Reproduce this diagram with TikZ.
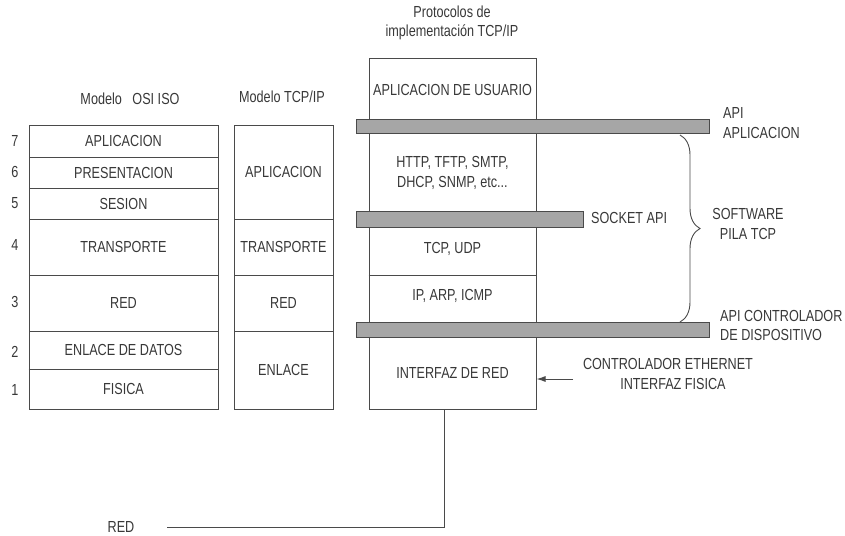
\documentclass[tikz,border=0pt]{standalone}
\usepackage{fontspec}
\setmainfont{Liberation Sans}[FakeStretch=0.79]
\usetikzlibrary{decorations.pathreplacing,arrows.meta}
\definecolor{txt}{HTML}{383838}
\definecolor{ln}{HTML}{4A4A4A}
\definecolor{barfill}{HTML}{A6A6A6}
\begin{document}
\begin{tikzpicture}[x=1pt,y=-1pt,
  every node/.style={text=txt,font=\fontsize{16}{19.5}\selectfont},
  layer/.style={draw=ln,line width=1pt,inner sep=0pt,minimum width=#1},
  txtnode/.style={inner sep=0pt,align=center},
  apibar/.style={draw=ln,line width=1pt,fill=barfill,inner sep=0pt},
  link/.style={draw=ln,line width=1pt}]
\useasboundingbox (0,0) rectangle (845,535);

% ---------- OSI model ----------
\node[txtnode] (osititle) at (130,99) {Modelo\ \ \ OSI ISO};
\node[layer=189,minimum height=32] (o7) at (123.5,141) {APLICACION};
\node[layer=189,minimum height=31] (o6) at (123.5,172.5) {PRESENTACION};
\node[layer=189,minimum height=31] (o5) at (123.5,203.5) {SESION};
\node[layer=189,minimum height=56] (o4) at (123.5,247) {TRANSPORTE};
\node[layer=189,minimum height=56] (o3) at (123.5,303) {RED};
\node[layer=189,minimum height=38] (o2) at (123.5,350) {ENLACE DE DATOS};
\node[layer=189,minimum height=40] (o1) at (123.5,389) {FISICA};
\draw[ln,line width=1.8pt] (o2.south west) -- (o2.south east);
\node[txtnode] (n7) at (15,141) {7};
\node[txtnode] (n6) at (15,172) {6};
\node[txtnode] (n5) at (15,203) {5};
\node[txtnode] (n4) at (15,245) {4};
\node[txtnode] (n3) at (15,302) {3};
\node[txtnode] (n2) at (15,352) {2};
\node[txtnode] (n1) at (15,390) {1};

% ---------- TCP/IP model ----------
\node[txtnode] (tcptitle) at (282,97) {Modelo TCP/IP};
\node[layer=99,minimum height=94] (t4) at (283.5,172) {APLICACION};
\node[layer=99,minimum height=56] (t3) at (283.5,247) {TRANSPORTE};
\node[layer=99,minimum height=56] (t2) at (283.5,303) {RED};
\node[layer=99,minimum height=78] (t1) at (283.5,370) {ENLACE};

% ---------- Protocol stack ----------
\node[txtnode] (ptitle) at (452,23) {Protocolos de\\implementación TCP/IP};
\node[layer=167,minimum height=67] (s1) at (452.5,92.5) {};
\node[layer=167,minimum height=93] (s2) at (452.5,172.5) {};
\node[layer=167,minimum height=56] (s3) at (452.5,247) {};
\node[layer=167,minimum height=54.5] (s4) at (452.5,302.25) {};
\node[layer=167,minimum height=79.5] (s5) at (452.5,369.25) {};
\draw[ln,line width=1.8pt] (s3.south west) -- (s3.south east);
\node[txtnode] (l1) at (452.5,90) {APLICACION DE USUARIO};
\node[txtnode] (l2) at (452.5,173) {HTTP, TFTP, SMTP,\\DHCP, SNMP, etc...};
\node[txtnode] (l3) at (452.5,249) {TCP, UDP};
\node[txtnode] (l4) at (452.5,296) {IP, ARP, ICMP};
\node[txtnode] (l5) at (452.5,373) {INTERFAZ DE RED};

% API bars
\node[apibar,minimum width=353,minimum height=14] (b1) at (532.5,126) {};
\node[apibar,minimum width=227,minimum height=16] (b2) at (469.5,219) {};
\node[apibar,minimum width=353,minimum height=15] (b3) at (532.5,329.5) {};

% right labels
\node[txtnode,align=left,anchor=west] (apiapp) at (723,123) {API\\APLICACION};
\node[txtnode,anchor=west] (sock) at (591,218) {SOCKET API};
\node[txtnode] (soft) at (748,224) {SOFTWARE\\PILA TCP};
\node[txtnode,align=left,anchor=west] (apidrv) at (720,325.5) {API CONTROLADOR\\DE DISPOSITIVO};
\node[txtnode] (eth) at (668,374) {CONTROLADOR ETHERNET\\\hspace*{10pt}INTERFAZ FISICA};

% brace
\coordinate (bt) at (680,135);
\coordinate (bb) at (680,322);
\draw[ln,line width=0.9pt,decorate,decoration={brace,amplitude=20pt}] (bt) -- (bb);

% arrow
\coordinate (arrstart) at (573,379);
\draw[link,-{Latex[length=9pt,width=6pt]}] (arrstart) -- (s5.east |- arrstart);

% network line
\node[txtnode] (red) at (121,527) {RED};
\coordinate (nd) at (444,527);
\draw[link] (s5.south -| nd) -- (nd) -- ([xshift=32pt]red.east |- nd);
\end{tikzpicture}
\end{document}
